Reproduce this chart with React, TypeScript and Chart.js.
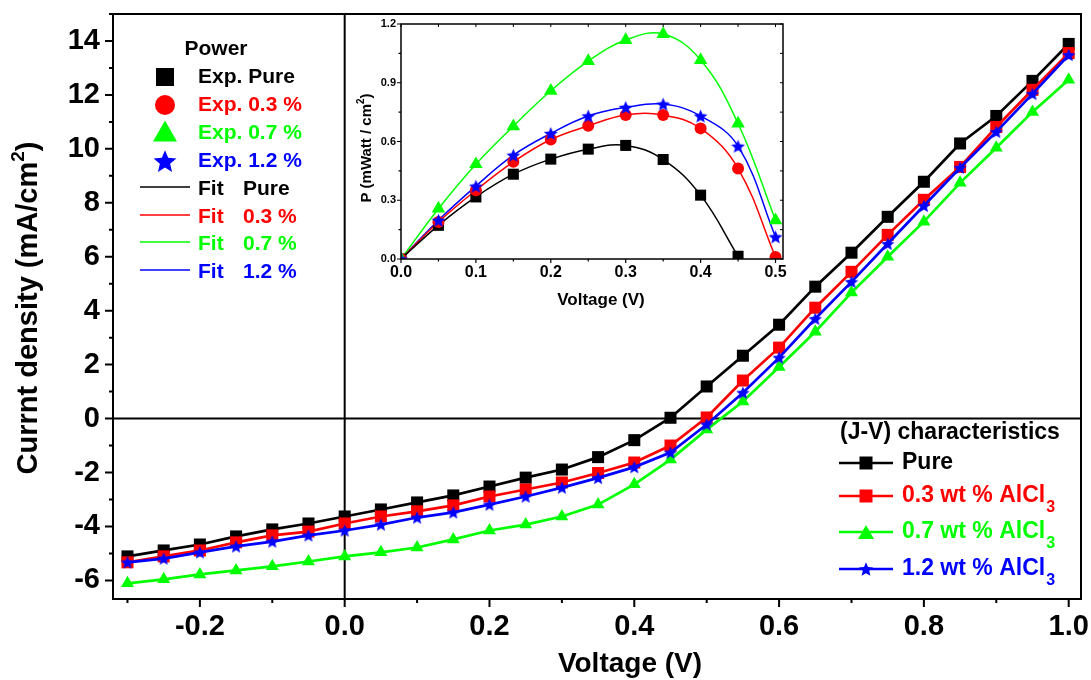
import React, { useEffect, useRef } from 'react';
import { Chart, registerables } from 'chart.js';
Chart.register(...registerables);

const FONT = '"Liberation Sans", Arial, Helvetica, sans-serif';

// Main J-V data
const voltage = [-0.3, -0.25, -0.2, -0.15, -0.1, -0.05, 0, 0.05, 0.1, 0.15, 0.2, 0.25, 0.3, 0.35, 0.4, 0.45, 0.5, 0.55, 0.6, 0.65, 0.7, 0.75, 0.8, 0.85, 0.9, 0.95, 1.0];
const jPure = [-5.11, -4.89, -4.67, -4.37, -4.11, -3.89, -3.63, -3.37, -3.11, -2.85, -2.52, -2.19, -1.89, -1.43, -0.8, 0.03, 1.19, 2.33, 3.48, 4.89, 6.15, 7.48, 8.78, 10.2, 11.22, 12.52, 13.89];
const jRed = [-5.33, -5.11, -4.89, -4.59, -4.33, -4.19, -3.89, -3.63, -3.44, -3.22, -2.89, -2.63, -2.37, -2.02, -1.63, -1.0, 0.04, 1.41, 2.63, 4.11, 5.44, 6.81, 8.11, 9.33, 10.81, 12.19, 13.55];
const jGreen = [-6.11, -5.96, -5.78, -5.63, -5.48, -5.3, -5.11, -4.96, -4.78, -4.48, -4.15, -3.93, -3.63, -3.19, -2.44, -1.52, -0.41, 0.63, 1.91, 3.22, 4.67, 6.0, 7.3, 8.74, 10.04, 11.37, 12.56];
const jBlue = [-5.33, -5.19, -4.96, -4.74, -4.56, -4.33, -4.15, -3.93, -3.67, -3.48, -3.19, -2.89, -2.56, -2.2, -1.8, -1.26, -0.22, 0.96, 2.26, 3.7, 5.07, 6.48, 7.89, 9.3, 10.63, 12.04, 13.48];

// Inset power data
const powerVoltage = [0, 0.05, 0.1, 0.15, 0.2, 0.25, 0.3, 0.35, 0.4, 0.45, 0.5];
const pPure = [0, 0.172, 0.317, 0.433, 0.51, 0.561, 0.58, 0.508, 0.326, 0.014];
const pRed = [0, 0.189, 0.351, 0.496, 0.61, 0.68, 0.735, 0.735, 0.667, 0.462, 0.01];
const pGreen = [0, 0.257, 0.484, 0.678, 0.859, 1.011, 1.118, 1.149, 1.016, 0.692, 0.198];
const pBlue = [0, 0.198, 0.372, 0.53, 0.641, 0.73, 0.774, 0.791, 0.73, 0.576, 0.113];

const colors = ['#000000', '#ff0000', '#00ff00', '#0000ff'];
const jvLabels = ['Pure', '0.3 wt % AlCl', '0.7 wt % AlCl', '1.2 wt % AlCl'];
const powerLabels = ['Pure', '0.3 %', '0.7 %', '1.2 %'];
const jvTitle = '(J-V) characteristics';
const powerTitle = 'Power';
const xTitle = 'Voltage (V)';
const yTitleMain = 'Currnt density (mA/cm';
const yTitleInset = 'P (mWatt / cm';

const toXY = (xs: number[], ys: number[]) => ys.map((y, i) => ({ x: xs[i], y }));

function starPath(ctx: CanvasRenderingContext2D, cx: number, cy: number, R: number, r: number) {
  ctx.moveTo(cx, cy - R);
  for (let i = 1; i < 10; i++) {
    const a = -Math.PI / 2 + (i * Math.PI) / 5;
    const rad = i % 2 ? r : R;
    ctx.lineTo(cx + Math.cos(a) * rad, cy + Math.sin(a) * rad);
  }
  ctx.closePath();
}

function starCanvas(R: number, color: string) {
  const size = Math.ceil(2 * R) + 2;
  const c = document.createElement('canvas');
  c.width = size;
  c.height = size;
  const g = c.getContext('2d')!;
  g.fillStyle = color;
  g.beginPath();
  starPath(g, size / 2, size / 2 + R * 0.095, R, R * 0.45);
  g.fill();
  return c;
}

function drawMarker(ctx: CanvasRenderingContext2D, shape: string, x: number, y: number, s: number, color: string) {
  ctx.save();
  ctx.fillStyle = color;
  ctx.beginPath();
  if (shape === 'rect') ctx.rect(x - s / 2, y - s / 2, s, s);
  else if (shape === 'circle') ctx.arc(x, y, s / 2, 0, Math.PI * 2);
  else if (shape === 'triangle') {
    const h = s * 0.866;
    ctx.moveTo(x, y - h / 2);
    ctx.lineTo(x + s / 2, y + h / 2);
    ctx.lineTo(x - s / 2, y + h / 2);
    ctx.closePath();
  } else if (shape === 'star') starPath(ctx, x, y + s * 0.05, s / 2, s * 0.225);
  ctx.fill();
  ctx.restore();
}

function drawRich(ctx: CanvasRenderingContext2D, parts: [string, number, number][], cx: number, cy: number, rot: number) {
  ctx.save();
  ctx.translate(cx, cy);
  ctx.rotate(rot);
  ctx.textBaseline = 'middle';
  ctx.textAlign = 'left';
  ctx.fillStyle = '#000';
  let total = 0;
  for (const [t, size] of parts) {
    ctx.font = `bold ${size}px ${FONT}`;
    total += ctx.measureText(t).width;
  }
  let x = -total / 2;
  for (const [t, size, dy] of parts) {
    ctx.font = `bold ${size}px ${FONT}`;
    ctx.fillText(t, x, dy);
    x += ctx.measureText(t).width;
  }
  ctx.restore();
}

function tickMarks(chart: any, axis: string, side: string, major: number, minor: number, lw: number) {
  const ctx = chart.ctx as CanvasRenderingContext2D;
  const scale = chart.scales[axis];
  const a = chart.chartArea;
  ctx.save();
  ctx.strokeStyle = '#000';
  ctx.lineWidth = lw;
  ctx.beginPath();
  for (const t of scale.ticks) {
    const p = scale.getPixelForValue(t.value);
    const len = t.label !== '' ? major : minor;
    if (side === 'bottom') { ctx.moveTo(p, a.bottom); ctx.lineTo(p, a.bottom + len); }
    if (side === 'top') { ctx.moveTo(p, a.top); ctx.lineTo(p, a.top + len); }
    if (side === 'left') { ctx.moveTo(a.left, p); ctx.lineTo(a.left - len, p); }
    if (side === 'right') { ctx.moveTo(a.right, p); ctx.lineTo(a.right - len, p); }
  }
  ctx.stroke();
  ctx.restore();
}

const xLabel1 = (v: number) => { const k = Math.round(v * 10); return k % 2 === 0 ? (k / 10).toFixed(1) : ''; };
const yLabel1 = (v: number) => { const k = Math.round(v); return k % 2 === 0 ? String(k) : ''; };
const xLabel2 = (v: number) => { const k = Math.round(v / 0.05); return k % 2 === 0 ? (k * 0.05).toFixed(1) : ''; };
const yLabel2 = (v: number) => { const k = Math.round(v / 0.15); return k % 2 === 0 ? (k * 0.15).toFixed(1) : ''; };

export default function App() {
  const mainRef = useRef<HTMLCanvasElement>(null);
  const insetRef = useRef<HTMLCanvasElement>(null);

  useEffect(() => {
    document.body.style.margin = '0';
    const starMain = starCanvas(7, colors[3]);
    const starInset = starCanvas(7.2, colors[3]);

    const mainPlugin = {
      id: 'mainDeco',
      beforeDatasetsDraw(chart: any) {
        const ctx = chart.ctx as CanvasRenderingContext2D;
        const a = chart.chartArea;
        const x0 = chart.scales.x.getPixelForValue(0);
        const y0 = chart.scales.y.getPixelForValue(0);
        ctx.save();
        ctx.strokeStyle = '#000';
        ctx.lineWidth = 2;
        ctx.beginPath();
        ctx.moveTo(x0, a.top); ctx.lineTo(x0, a.bottom);
        ctx.moveTo(a.left, y0); ctx.lineTo(a.right, y0);
        ctx.stroke();
        ctx.restore();
      },
      afterDraw(chart: any) {
        const ctx = chart.ctx as CanvasRenderingContext2D;
        const a = chart.chartArea;
        ctx.save();
        ctx.strokeStyle = '#000';
        ctx.lineWidth = 2;
        ctx.strokeRect(a.left, a.top, a.right - a.left, a.bottom - a.top);
        ctx.restore();
        tickMarks(chart, 'x', 'bottom', 8, 4, 2);
        tickMarks(chart, 'y', 'left', 8, 4, 2);

        drawRich(ctx, [[yTitleMain, 29, 0], ['2', 19, -10], [')', 29, 0]], 29, 308, -Math.PI / 2);
        drawRich(ctx, [[xTitle, 28, 0]], 630, 664, 0);

        // Power legend (inset key)
        ctx.save();
        ctx.textBaseline = 'middle';
        ctx.font = `bold 21px ${FONT}`;
        ctx.fillStyle = '#000';
        ctx.textAlign = 'center';
        ctx.fillText(powerTitle, 216, 49);
        ctx.textAlign = 'left';
        const rows = [77, 105, 133, 161, 189, 217, 244, 272];
        const shapes = ['rect', 'circle', 'triangle', 'star'];
        const sizes = [18, 20, 24, 24];
        for (let i = 0; i < 4; i++) {
          drawMarker(ctx, shapes[i], 165, rows[i] - (i === 2 ? 2 : 0), sizes[i], colors[i]);
          ctx.fillStyle = colors[i];
          ctx.fillText('Exp. ' + powerLabels[i], 198, rows[i]);
        }
        for (let i = 0; i < 4; i++) {
          const y = rows[4 + i];
          ctx.strokeStyle = colors[i];
          ctx.lineWidth = 1.5;
          ctx.beginPath();
          ctx.moveTo(140, y - 2);
          ctx.lineTo(190, y - 2);
          ctx.stroke();
          ctx.fillStyle = colors[i];
          ctx.fillText('Fit', 198, y);
          ctx.fillText(powerLabels[i], 243, y);
        }

        // J-V legend
        ctx.font = `bold 23px ${FONT}`;
        ctx.fillStyle = '#000';
        ctx.fillText(jvTitle, 840, 433);
        const jrows = [463, 496, 532, 569];
        const jshapes = ['rect', 'rect', 'triangle', 'star'];
        const jsizes = [13, 13, 16, 15];
        for (let i = 0; i < 4; i++) {
          const y = jrows[i];
          ctx.strokeStyle = colors[i];
          ctx.lineWidth = 2.7;
          ctx.beginPath();
          ctx.moveTo(839, y);
          ctx.lineTo(893, y);
          ctx.stroke();
          drawMarker(ctx, jshapes[i], 866, y, jsizes[i], colors[i]);
          ctx.fillStyle = colors[i];
          ctx.font = `bold 23px ${FONT}`;
          ctx.fillText(jvLabels[i], 902, y);
          if (i > 0) {
            const w = ctx.measureText(jvLabels[i]).width;
            ctx.font = `bold 16px ${FONT}`;
            ctx.fillText('3', 902 + w + 1, y + 12);
          }
        }
        ctx.restore();
      },
    };

    const mainCfg: any = {
      type: 'line',
      data: {
        datasets: [
          { label: 'Pure', data: toXY(voltage, jPure), borderColor: colors[0], backgroundColor: colors[0], pointBackgroundColor: colors[0], borderWidth: 2.7, pointStyle: 'rect', pointRadius: 8.5, pointBorderWidth: 0, tension: 0, order: 3 },
          { label: '0.3 wt % AlCl3', data: toXY(voltage, jRed), borderColor: colors[1], backgroundColor: colors[1], pointBackgroundColor: colors[1], borderWidth: 2.7, pointStyle: 'rect', pointRadius: 8.5, pointBorderWidth: 0, tension: 0, order: 1 },
          { label: '0.7 wt % AlCl3', data: toXY(voltage, jGreen), borderColor: colors[2], backgroundColor: colors[2], pointBackgroundColor: colors[2], borderWidth: 2.7, pointStyle: 'triangle', pointRadius: 7.5, pointBorderWidth: 0, tension: 0, order: 2 },
          { label: '1.2 wt % AlCl3', data: toXY(voltage, jBlue), borderColor: colors[3], backgroundColor: colors[3], pointBackgroundColor: colors[3], borderWidth: 2.7, pointStyle: starMain, pointRadius: 7, pointBorderWidth: 0, tension: 0, order: 0 },
        ],
      },
      options: {
        responsive: false,
        animation: false,
        devicePixelRatio: 1,
        layout: { padding: { top: 14, right: 10, left: 0, bottom: 0 } },
        plugins: { legend: { display: false }, tooltip: { enabled: false }, title: { display: false } },
        scales: {
          x: {
            type: 'linear', min: -0.32, max: 1.017,
            afterFit: (s: any) => { s.height = 81; s.paddingLeft = 0; s.paddingRight = 0; },
            grid: { display: false, drawTicks: false },
            border: { display: false },
            ticks: { stepSize: 0.1, includeBounds: false, autoSkip: false, maxRotation: 0, minRotation: 0, padding: 11, color: '#000', font: { family: FONT, size: 29, weight: 'bold' }, callback: xLabel1 },
          },
          y: {
            type: 'linear', min: -6.69, max: 15,
            afterFit: (s: any) => { s.width = 113; s.paddingTop = 0; s.paddingBottom = 0; },
            grid: { display: false, drawTicks: false },
            border: { display: false },
            ticks: { stepSize: 1, includeBounds: false, autoSkip: false, padding: 13, color: '#000', font: { family: FONT, size: 29, weight: 'bold' }, callback: yLabel1 },
          },
        },
      },
      plugins: [mainPlugin],
    };

    const insetPlugin = {
      id: 'insetDeco',
      afterDraw(chart: any) {
        const ctx = chart.ctx as CanvasRenderingContext2D;
        const a = chart.chartArea;
        ctx.save();
        ctx.strokeStyle = '#000';
        ctx.lineWidth = 1.5;
        ctx.strokeRect(a.left, a.top, a.right - a.left, a.bottom - a.top);
        ctx.restore();
        tickMarks(chart, 'x', 'bottom', 4, 2.5, 1.2);
        tickMarks(chart, 'x', 'top', 3, 3, 1);
        tickMarks(chart, 'y', 'left', 4, 2.5, 1.2);
        tickMarks(chart, 'y', 'right', 3, 3, 1);
        drawRich(ctx, [[yTitleInset, 15, 0], ['2', 10, -6], [')', 15, 0]], 27, 138, -Math.PI / 2);
        drawRich(ctx, [[xTitle, 17, 0]], 261, 290, 0);
      },
    };

    const pData = [pPure, pRed, pGreen, pBlue];
    const pShapes: any[] = ['rect', 'circle', 'triangle', starInset];
    const pRadius = [7.8, 6, 7.8, 7.2];
    const pOrder = [3, 2, 1, 0];
    const insetDatasets: any[] = [];
    for (let i = 0; i < 4; i++) {
      insetDatasets.push({
        label: 'Exp. ' + powerLabels[i], data: toXY(powerVoltage, pData[i]), showLine: false,
        borderColor: colors[i], backgroundColor: colors[i], pointBackgroundColor: colors[i],
        pointStyle: pShapes[i], pointRadius: pRadius[i], pointBorderWidth: 0, order: pOrder[i],
      });
    }
    for (let i = 0; i < 4; i++) {
      insetDatasets.push({
        label: 'Fit ' + powerLabels[i], data: toXY(powerVoltage, pData[i]),
        borderColor: colors[i], backgroundColor: colors[i], borderWidth: 1.5,
        pointRadius: 0, tension: 0.4, order: 4 + i,
      });
    }

    const insetCfg: any = {
      type: 'line',
      data: { datasets: insetDatasets },
      options: {
        responsive: false,
        animation: false,
        devicePixelRatio: 1,
        layout: { padding: { top: 14, right: 17, left: 0, bottom: 0 } },
        plugins: { legend: { display: false }, tooltip: { enabled: false }, title: { display: false } },
        scales: {
          x: {
            type: 'linear', min: 0, max: 0.51,
            afterFit: (s: any) => { s.height = 51; s.paddingLeft = 0; s.paddingRight = 0; },
            grid: { display: false, drawTicks: false },
            border: { display: false },
            ticks: { stepSize: 0.05, includeBounds: false, autoSkip: false, maxRotation: 0, minRotation: 0, padding: 4, color: '#000', font: { family: FONT, size: 16, weight: 'bold' }, callback: xLabel2 },
          },
          y: {
            type: 'linear', min: 0, max: 1.2,
            afterFit: (s: any) => { s.width = 61; s.paddingTop = 0; s.paddingBottom = 0; },
            grid: { display: false, drawTicks: false },
            border: { display: false },
            ticks: { stepSize: 0.15, includeBounds: false, autoSkip: false, padding: 5, color: '#000', font: { family: FONT, size: 11, weight: 'bold' }, callback: yLabel2 },
          },
        },
      },
      plugins: [insetPlugin],
    };

    const c1 = new Chart(mainRef.current!, mainCfg);
    const c2 = new Chart(insetRef.current!, insetCfg);
    return () => { c1.destroy(); c2.destroy(); };
  }, []);

  return (
    <div style={{ position: 'relative', width: 1091, height: 680, background: '#fff' }}>
      <canvas ref={mainRef} width={1091} height={680} style={{ position: 'absolute', left: 0, top: 0 }} />
      <canvas ref={insetRef} width={460} height={300} style={{ position: 'absolute', left: 340, top: 10 }} />
    </div>
  );
}
